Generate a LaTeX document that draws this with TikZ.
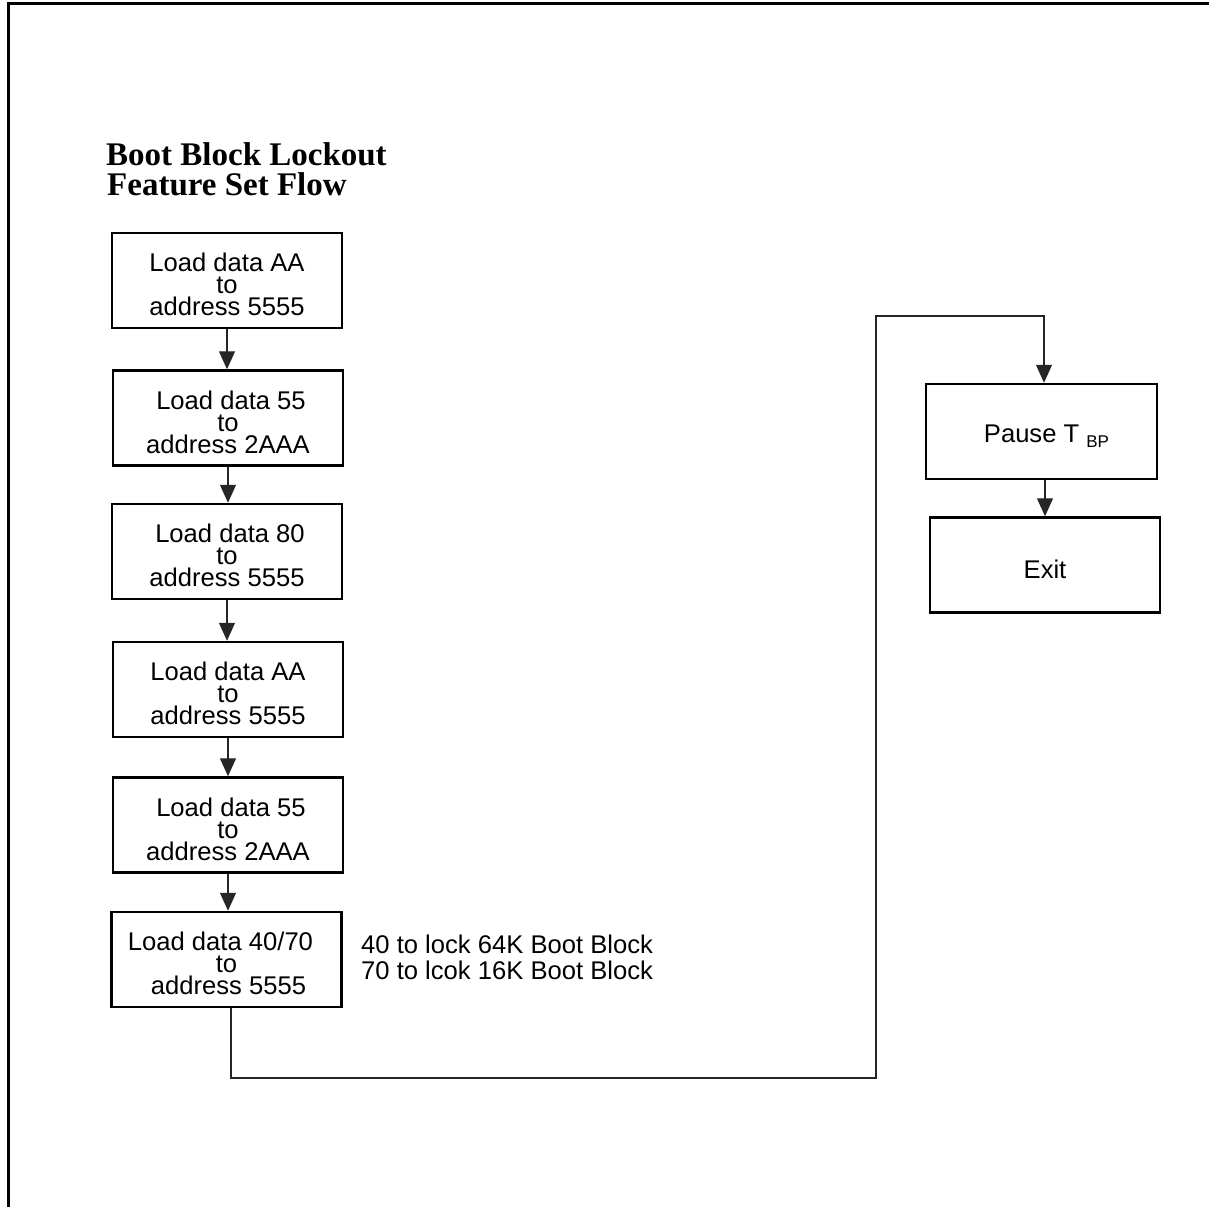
\documentclass[tikz,border=0pt]{standalone}
\usepackage{fontspec}
\setmainfont{Liberation Sans}
\newfontfamily\titlefont{Liberation Serif}
\usetikzlibrary{arrows.meta}
\newcommand\tup{\rule{0pt}{27pt}}
\begin{document}
\begin{tikzpicture}[x=1pt,y=-1pt,
  flowbox/.style={draw, line width=2.5pt, rectangle, align=center, inner sep=0pt,
    minimum width=230pt, minimum height=95pt,
    font=\fontsize{25.6}{22}\selectfont},
  titletext/.style={anchor=base west, inner sep=0pt, font=\titlefont\bfseries\fontsize{33}{30}\selectfont},
  notetext/.style={anchor=base west, inner sep=0pt, font=\fontsize{25.6}{26}\selectfont},
  conn/.style={line width=1.2pt, draw=black!85},
  arr/.style={conn, -{Triangle[length=18pt,width=16pt]}}]
\useasboundingbox (0,0) rectangle (1209,1207);
\draw[line width=3pt] (8,1207) -- (8,4) -- (1209,4);

\node[titletext] (t1) at (106,165) {Boot Block Lockout};
\node[titletext] (t2) at (107,195) {Feature Set Flow};

\node[flowbox] (b1) at (227,280.5) {\tup Load data AA\\to\\address 5555};
\node[flowbox] (b2) at (228,418) {\tup\hspace*{6pt}Load data 55\\to\\address 2AAA};
\node[flowbox] (b3) at (227,551.5) {\tup\hspace*{6pt}Load data 80\\to\\address 5555};
\node[flowbox] (b4) at (228,689.5) {\tup Load data AA\\to\\address 5555};
\node[flowbox] (b5) at (228,825) {\tup\hspace*{6pt}Load data 55\\to\\address 2AAA};
\node[flowbox] (b6) at (226.5,959.5) {\tup Load data 40/70\hspace*{12pt}\\to\\\hspace*{4pt}address 5555};

\node[notetext] (n1) at (361,953) {40 to lock 64K Boot Block};
\node[notetext] (n2) at (361,979) {70 to lcok 16K Boot Block};

\node[flowbox, minimum width=231pt] (pause) at (1041.5,431.5) {\tup\hspace*{10pt}Pause T {\fontsize{17}{17}\selectfont\raisebox{-5pt}{BP}}};
\node[flowbox] (exit) at (1045,565) {\tup Exit};

\draw[arr] (b1.south) -- (b2.north -| b1.south);
\draw[arr] (b2.south) -- (b3.north -| b2.south);
\draw[arr] (b3.south) -- (b4.north -| b3.south);
\draw[arr] (b4.south) -- (b5.north -| b4.south);
\draw[arr] (b5.south) -- (b6.north -| b5.south);

\coordinate (c1) at (231,1078);
\coordinate (c2) at (876,1078);
\coordinate (c3) at (876,316);
\coordinate (c4) at (1044,316);
\draw[arr] (b6.south -| c1) -- (c1) -- (c2) -- (c3) -- (c4) -- (c4 |- pause.north);
\draw[arr] (exit.north |- pause.south) -- (exit.north);
\end{tikzpicture}
\end{document}
